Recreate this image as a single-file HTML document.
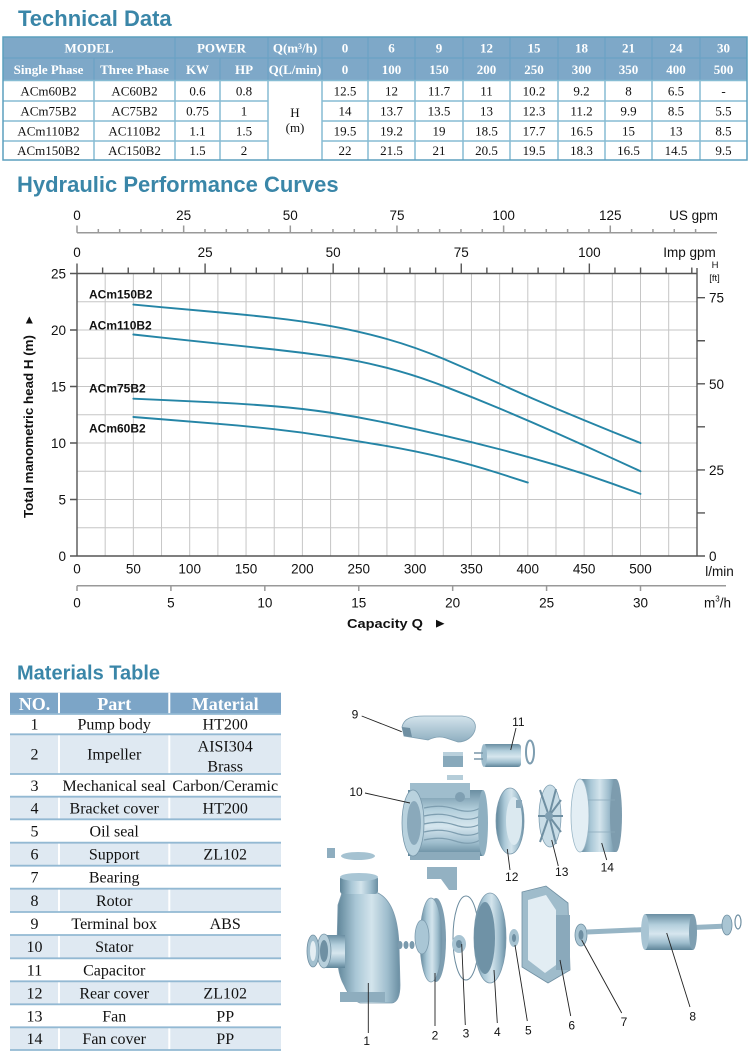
<!DOCTYPE html>
<html><head><meta charset="utf-8"><style>
html,body{margin:0;padding:0;background:#fff;}
svg{display:block;}
.s{font-family:"Liberation Sans",Arial,sans-serif;}
.r{font-family:"Liberation Serif","Times New Roman",serif;}
</style></head><body>
<svg width="750" height="1063" viewBox="0 0 750 1063" xmlns="http://www.w3.org/2000/svg">
<defs>
<linearGradient id="mh" x1="0" y1="0" x2="1" y2="0">
<stop offset="0" stop-color="#5f8599"/><stop offset="0.3" stop-color="#a9c7d6"/><stop offset="0.55" stop-color="#d3e4ec"/><stop offset="0.8" stop-color="#9ebdcd"/><stop offset="1" stop-color="#6a8ea2"/>
</linearGradient>
<linearGradient id="mv" x1="0" y1="0" x2="0" y2="1">
<stop offset="0" stop-color="#6a8ea2"/><stop offset="0.3" stop-color="#b3cfdc"/><stop offset="0.55" stop-color="#d6e6ee"/><stop offset="0.8" stop-color="#9ebdcd"/><stop offset="1" stop-color="#5f8599"/>
</linearGradient>
<linearGradient id="lt" x1="0" y1="0" x2="0" y2="1">
<stop offset="0" stop-color="#d4e4ec"/><stop offset="1" stop-color="#8eaec0"/>
</linearGradient>
</defs>

<!-- Technical Data -->
<text class="s" x="18" y="26" font-size="22" font-weight="bold" fill="#3a86a8">Technical Data</text>
<rect x="3" y="37" width="744" height="43.5" fill="#7ea8c8"/>
<g stroke="#6aa2c4" stroke-width="1.2">
<path d="M3 58H747 M175 37V58 M268 37V58 M322 37V58 M368 37V58 M415 37V58 M463 37V58 M510 37V58 M558 37V58 M605 37V58 M652 37V58 M700 37V58"/>
<path d="M94 58V80.5 M175 58V80.5 M220 58V80.5 M268 58V80.5 M322 58V80.5 M368 58V80.5 M415 58V80.5 M463 58V80.5 M510 58V80.5 M558 58V80.5 M605 58V80.5 M652 58V80.5 M700 58V80.5"/>
</g>
<g stroke="#86bcd3" stroke-width="1.5">
<path d="M3 80.5H747 M3 101H268 M322 101H747 M3 121H268 M322 121H747 M3 141H268 M322 141H747"/>
<path d="M94 80.5V160 M175 80.5V160 M220 80.5V160 M268 80.5V160 M322 80.5V160 M368 80.5V160 M415 80.5V160 M463 80.5V160 M510 80.5V160 M558 80.5V160 M605 80.5V160 M652 80.5V160 M700 80.5V160"/>
</g>
<rect x="3" y="37" width="744" height="123" fill="none" stroke="#5c9fbe" stroke-width="1.5"/>
<g class="r" font-size="13" font-weight="bold" fill="#fff" text-anchor="middle">
<text x="89" y="52.5">MODEL</text><text x="221.5" y="52.5">POWER</text><text x="295" y="52.5">Q(m³/h)</text>
<text x="345" y="52.5">0</text><text x="391.5" y="52.5">6</text><text x="439" y="52.5">9</text><text x="486.5" y="52.5">12</text><text x="534" y="52.5">15</text><text x="581.5" y="52.5">18</text><text x="628.5" y="52.5">21</text><text x="676" y="52.5">24</text><text x="723.5" y="52.5">30</text>
<text x="48.5" y="74">Single Phase</text><text x="134.5" y="74">Three Phase</text><text x="197.5" y="74">KW</text><text x="244" y="74">HP</text><text x="295" y="74">Q(L/min)</text>
<text x="345" y="74">0</text><text x="391.5" y="74">100</text><text x="439" y="74">150</text><text x="486.5" y="74">200</text><text x="534" y="74">250</text><text x="581.5" y="74">300</text><text x="628.5" y="74">350</text><text x="676" y="74">400</text><text x="723.5" y="74">500</text>
</g>
<g class="r" font-size="13" fill="#111" text-anchor="middle">
<text x="48.5" y="95.5">ACm60B2</text><text x="134.5" y="95.5">AC60B2</text><text x="197.5" y="95.5">0.6</text><text x="244" y="95.5">0.8</text>
<text x="345" y="95.5">12.5</text><text x="391.5" y="95.5">12</text><text x="439" y="95.5">11.7</text><text x="486.5" y="95.5">11</text><text x="534" y="95.5">10.2</text><text x="581.5" y="95.5">9.2</text><text x="628.5" y="95.5">8</text><text x="676" y="95.5">6.5</text><text x="723.5" y="95.5">-</text>
<text x="48.5" y="115.5">ACm75B2</text><text x="134.5" y="115.5">AC75B2</text><text x="197.5" y="115.5">0.75</text><text x="244" y="115.5">1</text>
<text x="345" y="115.5">14</text><text x="391.5" y="115.5">13.7</text><text x="439" y="115.5">13.5</text><text x="486.5" y="115.5">13</text><text x="534" y="115.5">12.3</text><text x="581.5" y="115.5">11.2</text><text x="628.5" y="115.5">9.9</text><text x="676" y="115.5">8.5</text><text x="723.5" y="115.5">5.5</text>
<text x="48.5" y="135.5">ACm110B2</text><text x="134.5" y="135.5">AC110B2</text><text x="197.5" y="135.5">1.1</text><text x="244" y="135.5">1.5</text>
<text x="345" y="135.5">19.5</text><text x="391.5" y="135.5">19.2</text><text x="439" y="135.5">19</text><text x="486.5" y="135.5">18.5</text><text x="534" y="135.5">17.7</text><text x="581.5" y="135.5">16.5</text><text x="628.5" y="135.5">15</text><text x="676" y="135.5">13</text><text x="723.5" y="135.5">8.5</text>
<text x="48.5" y="155">ACm150B2</text><text x="134.5" y="155">AC150B2</text><text x="197.5" y="155">1.5</text><text x="244" y="155">2</text>
<text x="345" y="155">22</text><text x="391.5" y="155">21.5</text><text x="439" y="155">21</text><text x="486.5" y="155">20.5</text><text x="534" y="155">19.5</text><text x="581.5" y="155">18.3</text><text x="628.5" y="155">16.5</text><text x="676" y="155">14.5</text><text x="723.5" y="155">9.5</text>
<text x="295" y="117">H</text><text x="295" y="132">(m)</text>
</g>

<!-- Hydraulic Performance Curves -->
<text class="s" x="17" y="192" font-size="22" font-weight="bold" fill="#3a86a8">Hydraulic Performance Curves</text>

<!-- US gpm axis -->
<g stroke="#999" stroke-width="1.5" fill="none">
<path d="M77 232.7H717"/>
<path d="M77 232.7V225.5 M183.66 232.7V225.5 M290.31 232.7V225.5 M396.97 232.7V225.5 M503.62 232.7V225.5 M610.28 232.7V225.5"/>
<path d="M98.33 232.7V229 M119.66 232.7V229 M140.99 232.7V229 M162.32 232.7V229 M204.99 232.7V229 M226.32 232.7V229 M247.65 232.7V229 M268.98 232.7V229 M311.64 232.7V229 M332.97 232.7V229 M354.3 232.7V229 M375.63 232.7V229 M418.3 232.7V229 M439.63 232.7V229 M460.96 232.7V229 M482.29 232.7V229 M524.95 232.7V229 M546.28 232.7V229 M567.61 232.7V229 M588.94 232.7V229 M631.61 232.7V229 M652.94 232.7V229 M674.27 232.7V229 M695.6 232.7V229"/>
</g>
<g class="s" font-size="13.5" fill="#111" text-anchor="middle">
<text x="77" y="220">0</text><text x="183.66" y="220">25</text><text x="290.31" y="220">50</text><text x="396.97" y="220">75</text><text x="503.62" y="220">100</text><text x="610.28" y="220">125</text>
<text x="693.5" y="220">US gpm</text>
<text x="77" y="257">0</text><text x="205.09" y="257">25</text><text x="333.17" y="257">50</text><text x="461.26" y="257">75</text><text x="589.34" y="257">100</text>
<text x="689.5" y="257">Imp gpm</text>
</g>
<g class="s" font-size="9.5" fill="#111" text-anchor="middle">
<text x="715" y="268">H</text><text x="714.5" y="281">[ft]</text>
</g>

<!-- grid -->
<g stroke="#c6c6c6" stroke-width="1" fill="none">
<path d="M105.18 273.5V556 M133.35 273.5V556 M161.53 273.5V556 M189.7 273.5V556 M217.88 273.5V556 M246.05 273.5V556 M274.23 273.5V556 M302.4 273.5V556 M330.58 273.5V556 M358.75 273.5V556 M386.93 273.5V556 M415.1 273.5V556 M443.28 273.5V556 M471.45 273.5V556 M499.63 273.5V556 M527.8 273.5V556 M555.98 273.5V556 M584.15 273.5V556 M612.33 273.5V556 M640.5 273.5V556 M668.68 273.5V556"/>
<path d="M77 527.75H697 M77 499.5H697 M77 471.25H697 M77 443H697 M77 414.75H697 M77 386.5H697 M77 358.25H697 M77 330H697 M77 301.75H697"/>
</g>
<!-- frame -->
<g stroke="#555" stroke-width="1.4" fill="none">
<path d="M77 273.5H697 M77 556H697 M77 273.5V556 M697 268V556"/>
<path d="M77 273.5V263.5 M205.09 273.5V263.5 M333.17 273.5V263.5 M461.26 273.5V263.5 M589.34 273.5V263.5"/>
<path d="M102.62 273.5V267.5 M128.23 273.5V267.5 M153.85 273.5V267.5 M179.47 273.5V267.5 M230.7 273.5V267.5 M256.32 273.5V267.5 M281.94 273.5V267.5 M307.55 273.5V267.5 M358.79 273.5V267.5 M384.4 273.5V267.5 M410.02 273.5V267.5 M435.64 273.5V267.5 M486.87 273.5V267.5 M512.49 273.5V267.5 M538.11 273.5V267.5 M563.72 273.5V267.5 M614.96 273.5V267.5 M640.57 273.5V267.5 M666.19 273.5V267.5 M691.81 273.5V267.5"/>
<path d="M70 556H77 M70 499.5H77 M70 443H77 M70 386.5H77 M70 330H77 M70 273.5H77"/>
<path d="M697 556H705 M697 512.95H705 M697 469.9H705 M697 426.85H705 M697 383.8H705 M697 340.75H705 M697 297.7H705"/>
</g>
<g class="s" font-size="13.5" fill="#111">
<g text-anchor="end">
<text x="66" y="561">0</text><text x="66" y="504.5">5</text><text x="66" y="448">10</text><text x="66" y="391.5">15</text><text x="66" y="335">20</text><text x="66" y="278.5">25</text>
</g>
<text x="709" y="561">0</text><text x="709" y="474.9">25</text><text x="709" y="388.8">50</text><text x="709" y="302.7">75</text>
</g>

<!-- curves -->
<g fill="none" stroke="#2585a6" stroke-width="1.9" stroke-linecap="round">
<path d="M133.35,304.6 L161.5,307.15 Q189.7,309.7 217.9,312.25 Q246.05,314.8 274.2,317.9 Q302.4,321 330.6,326.05 Q358.75,331.1 386.9,339 Q415.1,346.95 443.3,358.8 Q471.45,370.7 499.6,383.7 Q527.8,396.7 556,408.55 Q584.15,420.4 612.3,431.7 L640.5,443"/>
<path d="M133.35,334.5 L161.5,337.6 Q189.7,340.7 217.9,343.55 Q246.05,346.4 274.2,349.5 Q302.4,352.6 330.6,356.55 Q358.75,360.5 386.9,367.85 Q415.1,375.2 443.3,385.95 Q471.45,396.7 499.6,408.55 Q527.8,420.4 556,432.85 Q584.15,445.3 612.3,458.3 L640.5,471.25"/>
<path d="M133.35,398.7 L161.5,399.95 Q189.7,401.2 217.9,402.6 Q246.05,404 274.2,406.25 Q302.4,408.5 330.6,412.75 Q358.75,417 386.9,422.95 Q415.1,428.9 443.3,435.4 Q471.45,441.9 499.6,449.25 Q527.8,456.6 556,465.05 Q584.15,473.5 612.3,483.7 L640.5,493.85"/>
<path d="M133.35,417 L161.5,419.25 Q189.7,421.5 217.9,423.8 Q246.05,426.05 274.2,429.2 Q302.4,432.3 330.6,436.8 Q358.75,441.3 386.9,446.1 Q415.1,450.9 443.3,457.7 Q471.45,464.5 499.6,473.5 L527.8,482.55"/>
</g>
<g class="s" font-size="12" font-weight="bold" fill="#111">
<text x="89" y="298.5">ACm150B2</text><text x="89" y="329.3">ACm110B2</text><text x="89" y="392.5">ACm75B2</text><text x="89" y="432.5">ACm60B2</text>
</g>

<!-- y axis title -->
<text class="s" transform="translate(33,518) rotate(-90)" font-size="13" font-weight="bold" fill="#111" textLength="183" lengthAdjust="spacingAndGlyphs">Total manometric head H (m)</text>
<polygon points="29.3,316.5 25.8,323.5 32.8,323.5" fill="#111"/>

<!-- bottom axes -->
<g class="s" font-size="13.5" fill="#111" text-anchor="middle">
<text x="77" y="573.5">0</text><text x="133.35" y="573.5">50</text><text x="189.7" y="573.5">100</text><text x="246.05" y="573.5">150</text><text x="302.4" y="573.5">200</text><text x="358.75" y="573.5">250</text><text x="415.1" y="573.5">300</text><text x="471.45" y="573.5">350</text><text x="527.8" y="573.5">400</text><text x="584.15" y="573.5">450</text><text x="640.5" y="573.5">500</text>
<text x="719.5" y="576">l/min</text>
<text x="77" y="607.5">0</text><text x="170.92" y="607.5">5</text><text x="264.83" y="607.5">10</text><text x="358.75" y="607.5">15</text><text x="452.67" y="607.5">20</text><text x="546.58" y="607.5">25</text><text x="640.5" y="607.5">30</text>
</g>
<text class="s" x="704" y="607.5" font-size="13.5" fill="#111">m<tspan font-size="8" dy="-6">3</tspan><tspan dy="6">/h</tspan></text>
<g stroke="#999" stroke-width="1.5" fill="none">
<path d="M77 585.7H726 M77 585.7V591 M170.92 585.7V591 M264.83 585.7V591 M358.75 585.7V591 M452.67 585.7V591 M546.58 585.7V591 M640.5 585.7V591"/>
</g>
<text class="s" x="347" y="628" font-size="13" font-weight="bold" fill="#111" textLength="76" lengthAdjust="spacingAndGlyphs">Capacity Q</text>
<polygon points="436,619.8 436,627.6 444.5,623.7" fill="#111"/>

<!-- Materials Table -->
<text class="s" x="17" y="679.5" font-size="20" font-weight="bold" fill="#3a86a8">Materials Table</text>
<rect x="10" y="692.7" width="271" height="21.3" fill="#7ca5c7"/>
<g fill="#dfe9f2">
<rect x="10" y="734.3" width="271" height="39.7"/>
<rect x="10" y="796.7" width="271" height="22.6"/>
<rect x="10" y="842.7" width="271" height="23"/>
<rect x="10" y="888.7" width="271" height="23.3"/>
<rect x="10" y="935" width="271" height="23.3"/>
<rect x="10" y="981.3" width="271" height="23"/>
<rect x="10" y="1027.3" width="271" height="22.7"/>
</g>
<g stroke="#fff" stroke-width="2"><path d="M59 692.7V1050 M169.3 692.7V1050"/></g>
<g stroke="#93b9d3" stroke-width="1.8">
<path d="M10 714H281 M10 734.3H281 M10 774H281 M10 796.7H281 M10 819.3H281 M10 842.7H281 M10 865.7H281 M10 888.7H281 M10 912H281 M10 935H281 M10 958.3H281 M10 981.3H281 M10 1004.3H281 M10 1027.3H281 M10 1050H281"/>
</g>
<g class="r" font-size="18" font-weight="bold" fill="#fff" text-anchor="middle">
<text x="34.5" y="710">NO.</text><text x="114.2" y="710">Part</text><text x="225.2" y="710">Material</text>
</g>
<g class="r" font-size="16" fill="#111" text-anchor="middle">
<text x="34.5" y="729.5">1</text><text x="114.2" y="729.5">Pump body</text><text x="225.2" y="729.5">HT200</text>
<text x="34.5" y="759.5">2</text><text x="114.2" y="759.5">Impeller</text><text x="225.2" y="751.5">AISI304</text><text x="225.2" y="771.5">Brass</text>
<text x="34.5" y="790.8">3</text><text x="114.2" y="790.8">Mechanical seal</text><text x="225.2" y="790.8">Carbon/Ceramic</text>
<text x="34.5" y="813.5">4</text><text x="114.2" y="813.5">Bracket cover</text><text x="225.2" y="813.5">HT200</text>
<text x="34.5" y="836.5">5</text><text x="114.2" y="836.5">Oil seal</text>
<text x="34.5" y="859.7">6</text><text x="114.2" y="859.7">Support</text><text x="225.2" y="859.7">ZL102</text>
<text x="34.5" y="882.7">7</text><text x="114.2" y="882.7">Bearing</text>
<text x="34.5" y="905.8">8</text><text x="114.2" y="905.8">Rotor</text>
<text x="34.5" y="929">9</text><text x="114.2" y="929">Terminal box</text><text x="225.2" y="929">ABS</text>
<text x="34.5" y="952.2">10</text><text x="114.2" y="952.2">Stator</text>
<text x="34.5" y="975.3">11</text><text x="114.2" y="975.3">Capacitor</text>
<text x="34.5" y="998.3">12</text><text x="114.2" y="998.3">Rear cover</text><text x="225.2" y="998.3">ZL102</text>
<text x="34.5" y="1021.3">13</text><text x="114.2" y="1021.3">Fan</text><text x="225.2" y="1021.3">PP</text>
<text x="34.5" y="1044.2">14</text><text x="114.2" y="1044.2">Fan cover</text><text x="225.2" y="1044.2">PP</text>
</g>

<!-- Exploded pump diagram -->
<g stroke-width="0.8">
<!-- 9 terminal box cover -->
<path d="M402,727 C404,718 412,716 424,716 L462,716 C472,717 477,722 475,730 C473,737 466,742 458,742 L446,738 C440,736 434,737 428,740 L404,736 Z" fill="url(#lt)" stroke="#7f9fb1"/>
<path d="M402,727 L404,736 L412,737 L410,728 Z" fill="#6f8fa2"/>
<rect x="443" y="752" width="20" height="15" fill="#88a9bb"/>
<rect x="443" y="752" width="20" height="4" fill="#b9d0dc"/>
<rect x="447" y="775" width="16" height="5" fill="#b5cdd9"/>
<!-- 11 capacitor -->
<rect x="483" y="744" width="38" height="23" rx="3" fill="url(#mv)"/>
<ellipse cx="484" cy="755.5" rx="3" ry="11.5" fill="#9dbccc"/>
<path d="M474,753H483 M474,759H483" stroke="#7896a8" stroke-width="1.5"/>
<ellipse cx="530" cy="752" rx="4" ry="11.5" fill="none" stroke="#7d9db0" stroke-width="2"/>
<!-- 10 motor -->
<rect x="408" y="790" width="75" height="66" fill="url(#mv)"/>
<rect x="410" y="783" width="60" height="15" fill="#9fbdcd"/>
<circle cx="460" cy="797" r="5" fill="#7f9fb2"/>
<rect x="410" y="852" width="70" height="8" fill="#8cabbc"/>
<path d="M424,808 Q440,804 455,809 T480,808 M424,816 Q440,812 455,817 T480,816 M424,824 Q440,820 455,825 T480,824 M424,832 Q440,828 455,833 T480,832 M424,840 Q440,836 455,841 T480,840" fill="none" stroke="#7e9eb0" stroke-width="1.2"/>
<ellipse cx="483" cy="823" rx="5" ry="33" fill="#8fb0c1"/>
<ellipse cx="413" cy="823" rx="11" ry="33" fill="#b9d2de" stroke="#7797aa"/>
<ellipse cx="414" cy="823" rx="7" ry="22" fill="#8aa9bb"/>
<!-- 12 rear cover -->
<ellipse cx="510" cy="821" rx="14" ry="33" fill="url(#mh)" stroke="#7b9aad"/>
<ellipse cx="514" cy="821" rx="8" ry="24" fill="#dbe9f0"/>
<rect x="516" y="800" width="6" height="8" fill="#8aa9bb"/>
<!-- 13 fan -->
<ellipse cx="550" cy="816" rx="11" ry="31" fill="#c9dde7" stroke="#7f9fb2"/>
<path d="M549,816 L540,790 M549,816 L556,789 M549,816 L561,800 M549,816 L563,816 M549,816 L561,832 M549,816 L556,844 M549,816 L540,842 M549,816 L538,816" stroke="#6f8fa2" stroke-width="2"/>
<circle cx="549" cy="816" r="4" fill="#7f9fb2"/>
<!-- 14 fan cover -->
<rect x="580" y="779" width="36" height="73" fill="url(#mh)"/>
<ellipse cx="616" cy="815.5" rx="6" ry="36.5" fill="#7d9cae"/>
<ellipse cx="580" cy="815.5" rx="9" ry="36.5" fill="#e3eef4" stroke="#9ab7c7"/>
<path d="M588,800 H615 M588,832 H615" stroke="#8aa9bb" stroke-width="0.8"/>
<!-- small bits left -->
<rect x="327" y="848" width="8" height="10" fill="#8eadbf"/>
<ellipse cx="358" cy="856" rx="17" ry="4" fill="#a5c2d1"/>
<polygon points="427,867 457,867 457,890 449,890 441,879 427,879" fill="#93b1c2"/>
<!-- 1 pump body -->
<path d="M342,893 L378,893 C392,900 398,920 399,945 L400,985 C400,995 398,1002 392,1003 L360,1003 C352,1000 347,992 344,985 C338,975 337,960 337,945 L338,905 Z" fill="url(#mh)" stroke="#7b9aad"/>
<rect x="340" y="876" width="38" height="18" rx="3" fill="url(#mh)"/>
<ellipse cx="359" cy="877" rx="19" ry="4" fill="#a9c6d5"/>
<rect x="340" y="992" width="45" height="10" fill="#8eadbe"/>
<rect x="323" y="935" width="22" height="33" fill="url(#mv)"/>
<ellipse cx="324" cy="951" rx="7" ry="17" fill="#b7cfdb" stroke="#7796a8"/>
<ellipse cx="324" cy="951" rx="4" ry="11" fill="#6f90a3"/>
<ellipse cx="313" cy="951" rx="6" ry="16" fill="#a3c0cf" stroke="#7191a4"/>
<ellipse cx="313" cy="951" rx="3" ry="10" fill="#e4eef3"/>
<!-- 2 impeller -->
<ellipse cx="436" cy="940" rx="10" ry="42" fill="#7e9eb1"/>
<ellipse cx="431" cy="940" rx="11" ry="42" fill="url(#mh)" stroke="#7b9aad"/>
<ellipse cx="422" cy="937" rx="7" ry="17" fill="#a9c6d5" stroke="#7b9aad"/>
<ellipse cx="400" cy="945" rx="2.5" ry="4" fill="#7a9aad"/><ellipse cx="406" cy="945" rx="2.5" ry="4" fill="#7a9aad"/><ellipse cx="412" cy="945" rx="2.5" ry="4" fill="#7a9aad"/>
<!-- 3 seal -->
<ellipse cx="466" cy="938" rx="13" ry="42" fill="none" stroke="#6c8c9f" stroke-width="1"/>
<ellipse cx="459" cy="944" rx="7" ry="9" fill="#a8c4d3"/>
<ellipse cx="459" cy="944" rx="3" ry="4" fill="#6e8ea1"/>
<!-- 4 bracket cover -->
<ellipse cx="490" cy="938" rx="16" ry="45" fill="url(#mh)" stroke="#7b9aad"/>
<ellipse cx="485" cy="938" rx="10" ry="36" fill="#6f92a6"/>
<!-- 5 oil seal -->
<ellipse cx="514" cy="938" rx="5" ry="9" fill="#a7c3d1"/>
<ellipse cx="514" cy="938" rx="2" ry="4" fill="#6d8da0"/>
<!-- 6 support -->
<polygon points="522,892 546,886 568,903 570,970 548,983 522,967" fill="#9fbccb" stroke="#6f8fa2"/>
<polygon points="528,900 546,895 556,910 556,965 545,973 528,960" fill="#e2edf3"/>
<rect x="556" y="915" width="14" height="55" fill="#8aa9bb"/>
<!-- 7 bearing -->
<ellipse cx="581" cy="935" rx="6" ry="11" fill="#a9c5d3" stroke="#6f8fa2"/>
<ellipse cx="581" cy="935" rx="2.5" ry="5" fill="#6e8ea1"/>
<!-- 8 rotor -->
<path d="M587,932 L728,926" stroke="#97b5c5" stroke-width="5"/>
<rect x="645" y="914" width="48" height="36" fill="url(#mv)"/>
<ellipse cx="645" cy="932" rx="4" ry="18" fill="#a8c4d3"/>
<ellipse cx="693" cy="932" rx="4" ry="18" fill="#7f9fb1"/>
<ellipse cx="727" cy="925" rx="5" ry="10" fill="#a9c5d3" stroke="#6f8fa2"/>
<ellipse cx="738" cy="922" rx="3" ry="7" fill="none" stroke="#6f8fa2" stroke-width="1.2"/>
</g>
<!-- leaders -->
<g stroke="#222" stroke-width="0.9" fill="none">
<path d="M361.7,716 L401.7,731.7 M516,728 L510.7,750 M365,793 L410,803 M510,870 L507.3,849 M558.3,866 L551.7,840 M606.7,860 L601.7,843 M368.3,1033 L368.3,983 M435,1026 L435,973 M465.3,1025 L461.7,944 M497.3,1023 L494,970 M527.3,1021 L515,945 M570.7,1016 L560,960 M621.7,1013 L581.7,940 M690,1007 L666.7,933"/>
</g>
<g class="s" font-size="12" fill="#111" text-anchor="middle">
<text x="355" y="718.5">9</text><text x="518.3" y="726">11</text><text x="356" y="796">10</text><text x="511.7" y="881">12</text><text x="561.7" y="876">13</text><text x="607.3" y="871.5">14</text>
<text x="366.7" y="1045">1</text><text x="435" y="1039.5">2</text><text x="466" y="1037.5">3</text><text x="497.3" y="1036">4</text><text x="528.3" y="1034.5">5</text><text x="571.7" y="1029.5">6</text><text x="624" y="1026">7</text><text x="692.7" y="1020.5">8</text>
</g>
</svg>
</body></html>
